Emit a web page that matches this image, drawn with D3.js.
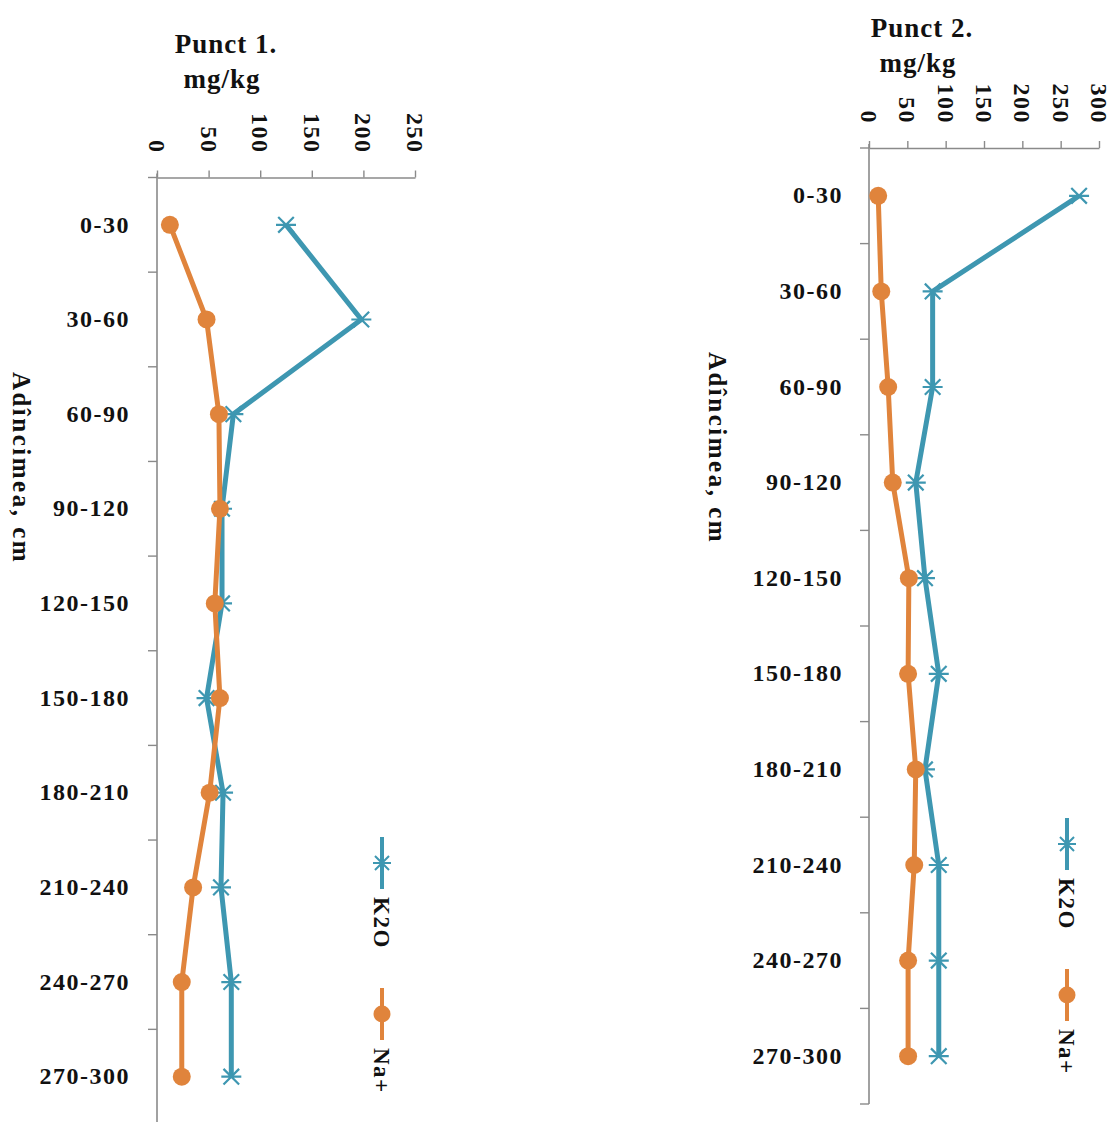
<!DOCTYPE html>
<html>
<head>
<meta charset="utf-8">
<script src="https://cdn.jsdelivr.net/npm/d3@7"></script>
<style>
  html, body { margin: 0; padding: 0; background: #fff; }
  svg { display: block; }
  text { font-family: "Liberation Serif", "Times New Roman", serif; font-weight: bold; fill: #111; }
</style>
</head>
<body>
<svg id="chart" width="1114" height="1122"></svg>
<script>
// ---- data ----
const categories = ["0-30", "30-60", "60-90", "90-120", "120-150", "150-180", "180-210", "210-240", "240-270", "270-300"];
const k2oPunct1 = [125, 198, 74, 63, 63, 48, 64, 62, 72, 72];
const naPunct1  = [12.5, 48, 60, 61, 56, 61, 51, 35, 24, 24];
const k2oPunct2 = [274, 83, 83, 61, 73, 91, 73, 91, 91, 91];
const naPunct2  = [12, 16, 25, 31, 52, 51, 61, 59, 51, 51];
const ticksPunct1 = [0, 50, 100, 150, 200, 250];
const ticksPunct2 = [0, 50, 100, 150, 200, 250, 300];
const seriesNames = ["K2O", "Na+"];
const titles = ["Punct 1.", "Punct 2."];
const unitLabel = "mg/kg";
const depthLabel = "Adîncimea, cm";

const COL_K = "#3e97b1";
const COL_N = "#e0843c";
const AXIS = "#8a8a8a";

const svg = d3.select("#chart");

function starPath(s) {
  const d = s * 0.78;
  return `M${-s},0L${s},0M${-d},${-d}L${d},${d}M${-d},${d}L${d},${-d}`;
}

function drawPanel(cfg) {
  const g = svg.append("g");
  const x = d3.scaleLinear().domain(cfg.xDomain).range(cfg.xRange);
  const y = d3.scaleBand().domain(categories).range(cfg.yRange);
  const yc = c => y(c) + y.bandwidth() / 2;

  // value axis (top)
  const xAxis = d3.axisTop(x).tickValues(cfg.ticks).tickSize(7).tickSizeOuter(0).tickFormat(d3.format("d"));
  const xg = g.append("g").attr("transform", `translate(0,${cfg.yRange[0]})`).call(xAxis);
  xg.select(".domain").attr("stroke", AXIS).attr("stroke-width", 1.6);
  xg.selectAll(".tick line").attr("stroke", AXIS).attr("stroke-width", 1.4);
  xg.selectAll(".tick text")
    .attr("x", 0).attr("y", 0)
    .attr("transform", "translate(0,-24) rotate(90)")
    .attr("text-anchor", "end")
    .attr("dy", "0.35em")
    .style("font-family", '"Liberation Serif", serif')
    .style("font-weight", "bold")
    .style("font-size", "24px")
    .style("letter-spacing", "1.5px")
    .attr("fill", "#111");

  // category axis (left)
  const yAxis = d3.axisLeft(y).tickSize(0).tickPadding(cfg.labelPad);
  const yg = g.append("g").attr("transform", `translate(${cfg.xRange[0]},0)`).call(yAxis);
  yg.select(".domain").remove();
  yg.selectAll(".tick text")
    .style("font-family", '"Liberation Serif", serif')
    .style("font-weight", "bold")
    .style("font-size", "24px")
    .style("letter-spacing", "1.5px")
    .attr("fill", "#111");
  // vertical axis line and boundary ticks
  g.append("line")
    .attr("x1", x(0)).attr("x2", x(0))
    .attr("y1", cfg.yRange[0] - 4).attr("y2", cfg.yRange[1])
    .attr("stroke", AXIS).attr("stroke-width", 1.6);
  const bounds = categories.map(c => y(c)).concat([cfg.yRange[1]]);
  g.selectAll("line.bt").data(bounds).join("line").attr("class", "bt")
    .attr("x1", x(0) - 9).attr("x2", x(0))
    .attr("y1", d => d).attr("y2", d => d)
    .attr("stroke", AXIS).attr("stroke-width", 1.4);

  // lines
  const line = vals => d3.line().x((d, i) => x(d)).y((d, i) => yc(categories[i]))(vals);
  g.append("path").attr("d", line(cfg.k2o)).attr("fill", "none")
    .attr("stroke", COL_K).attr("stroke-width", 5).attr("stroke-linejoin", "round");
  g.selectAll("path.star").data(cfg.k2o).join("path").attr("class", "star")
    .attr("transform", (d, i) => `translate(${x(d)},${yc(categories[i])})`)
    .attr("d", starPath(10)).attr("stroke", COL_K).attr("stroke-width", 2.2).attr("fill", "none");
  g.append("path").attr("d", line(cfg.na)).attr("fill", "none")
    .attr("stroke", COL_N).attr("stroke-width", 5).attr("stroke-linejoin", "round");
  g.selectAll("circle.na").data(cfg.na).join("circle").attr("class", "na")
    .attr("cx", d => x(d)).attr("cy", (d, i) => yc(categories[i]))
    .attr("r", 9).attr("fill", COL_N);

  // titles
  g.append("text").attr("x", cfg.titleX).attr("y", cfg.titleY).attr("text-anchor", "middle")
    .style("font-size", "27px").style("letter-spacing", "1px").text(cfg.title);
  g.append("text").attr("x", cfg.titleX - 4).attr("y", cfg.titleY + 35).attr("text-anchor", "middle")
    .style("font-size", "27px").style("letter-spacing", "1px").text(unitLabel);

  // depth title
  g.append("text").attr("transform", `translate(${cfg.depthX},${cfg.depthY}) rotate(90)`)
    .attr("text-anchor", "middle").attr("dy", "0.35em")
    .style("font-size", "25px").style("letter-spacing", "2.5px").text(depthLabel);

  // legend
  const lg = g.append("g").attr("transform", `translate(${cfg.legX},0)`);
  const items = [
    { name: seriesNames[0], y0: cfg.legY[0], color: COL_K, type: "star" },
    { name: seriesNames[1], y0: cfg.legY[1], color: COL_N, type: "circle" }
  ];
  items.forEach(it => {
    lg.append("line").attr("x1", 0).attr("x2", 0).attr("y1", it.y0).attr("y2", it.y0 + 52)
      .attr("stroke", it.color).attr("stroke-width", 4);
    if (it.type === "star") {
      lg.append("path").attr("transform", `translate(0,${it.y0 + 26})`)
        .attr("d", starPath(9)).attr("stroke", it.color).attr("stroke-width", 2).attr("fill", "none");
    } else {
      lg.append("circle").attr("cx", 0).attr("cy", it.y0 + 26).attr("r", 8.5).attr("fill", it.color);
    }
    lg.append("text").attr("transform", `translate(0,${it.y0 + 60}) rotate(90)`)
      .attr("text-anchor", "start").attr("dy", "0.35em")
      .style("font-size", "23px").style("letter-spacing", "1.5px").text(it.name);
  });
}

drawPanel({
  xDomain: [0, 250], xRange: [157, 415], yRange: [177.5, 1124],
  ticks: ticksPunct1, k2o: k2oPunct1, na: naPunct1, labelPad: 27,
  title: titles[0], titleX: 226, titleY: 53,
  depthX: 22, depthY: 468,
  legX: 382, legY: [837, 988]
});

drawPanel({
  xDomain: [0, 300], xRange: [869, 1099], yRange: [148, 1104],
  ticks: ticksPunct2, k2o: k2oPunct2, na: naPunct2, labelPad: 26,
  title: titles[1], titleX: 922, titleY: 37,
  depthX: 718, depthY: 448,
  legX: 1067, legY: [818, 969]
});
</script>
</body>
</html>
